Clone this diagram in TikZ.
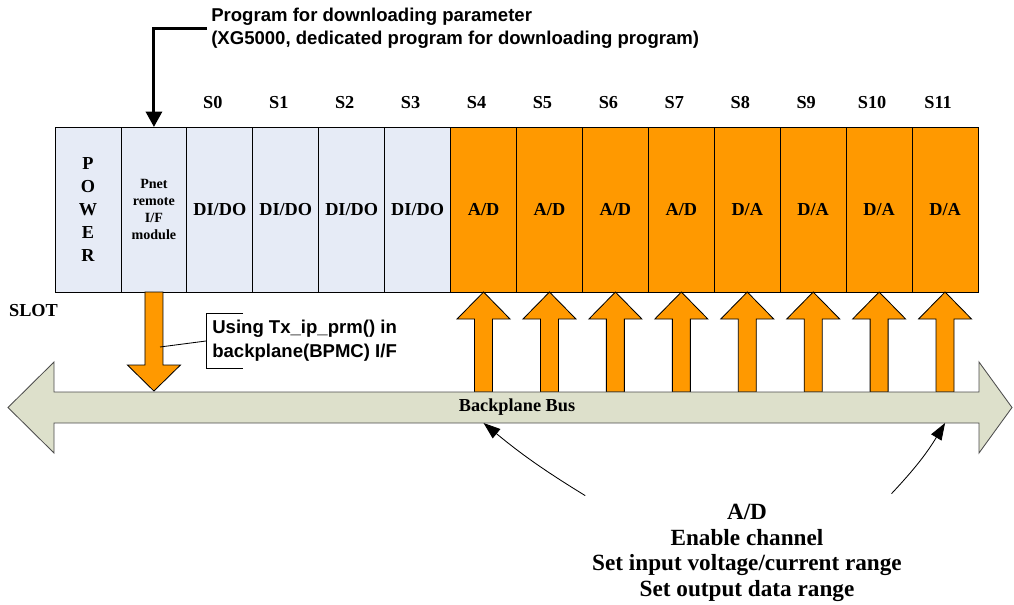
\documentclass[tikz,border=0pt]{standalone}
\usepackage{fontspec}
\setmainfont{Liberation Serif}
\newfontfamily\arialfont{Liberation Sans}
\usetikzlibrary{arrows.meta}
\usetikzlibrary{positioning}

\definecolor{slotblue}{HTML}{E6EBF6}
\definecolor{slotorange}{HTML}{FF9900}
\definecolor{busgreen}{HTML}{DDE0CB}

\tikzset{
  slot/.style={draw, line width=0.6pt, outer sep=0pt, inner sep=0pt,
    minimum width=1.648cm, minimum height=4.125cm, align=center,
    font=\bfseries\fontsize{13}{15}\selectfont},
  iomod/.style={slot, fill=slotblue},
  anmod/.style={slot, fill=slotorange},
  tag/.style={font=\bfseries\fontsize{13}{15}\selectfont},
  note/.style={font=\arialfont\bfseries\fontsize{13.2}{17}\selectfont, align=left},
  fatarrow/.style={draw, line width=0.6pt, fill=slotorange},
  pointer/.style={line width=0.6pt, -{Triangle[length=12pt,width=8.5pt]}}
}

\begin{document}
\begin{tikzpicture}[x=0.025cm, y=-0.025cm]
  % Slot width (pixels of the sketch)
  \def\w{65.93}
  \useasboundingbox (0,0) rectangle (1014,605);

  % Power supply and remote I/F module
  \node[iomod, font=\bfseries\fontsize{13}{16.3}\selectfont] (power) at (88,209.5) {P\\O\\W\\E\\R};
  \node[iomod, font=\bfseries\fontsize{10}{12}\selectfont, right=0pt of power] (pnet) {Pnet\\remote\\I/F\\module};

  % Digital and analog modules
  \foreach \i in {0,...,3}
    \node[iomod] (s\i) at ({55+\w*(\i+2.5)},209.5) {DI/DO};
  \foreach \lab [count=\i from 4] in {A/D,A/D,A/D,A/D,D/A,D/A,D/A,D/A}
    \node[anmod] (s\i) at ({55+\w*(\i+2.5)},209.5) {\lab};

  % Slot numbers
  \foreach \i in {0,...,11}
    \node[tag] (tag\i) at ({55+\w*(\i+2.5)-7},103) {S\i};
  \node[tag] (slotlbl) at (33.5,311) {SLOT};

  % Download program
  \node[note, anchor=west, inner xsep=0.1cm, font=\arialfont\bfseries\fontsize{13.2}{16.3}\selectfont] (title) at (207,28.5)
    {Program for downloading parameter\\(XG5000, dedicated program for downloading program)};
  \draw[line width=2.1pt, -{Triangle[length=11pt,width=11.5pt]}] (title.west) -| (pnet.north);

  % Fat arrows to and from the bus
  \draw[fatarrow] (pnet.south) +(-9,0) -- +(9,0) -- +(9,73) -- +(26.5,73)
    -- +(0,99) -- +(-26.5,73) -- +(-9,73) -- cycle;
  \foreach \i in {4,...,11}
    \draw[fatarrow] (s\i.south) -- +(26.5,27) -- +(9,27) -- +(9,100)
      -- +(-9,100) -- +(-9,27) -- +(-26.5,27) -- cycle;

  % Backplane bus
  \draw[line width=0.6pt, draw=black!70, fill=busgreen] (8,407.5) -- (54,362) -- (54,392) -- (979,392)
    -- (979,362) -- (1012,407.5) -- (979,453) -- (979,423) -- (54,423) -- (54,453) -- cycle;
  \node[tag] (bus) at (517,407) {Backplane Bus};
  \coordinate (busbot) at (0,423);

  % Tx_ip_prm() call
  \node[note, anchor=west, inner xsep=0.15cm, minimum height=1.35cm] (using) at (206,341)
    {Using Tx\_ip\_prm() in\\backplane(BPMC) I/F};
  \draw[line width=0.6pt] ([xshift=0.925cm]using.north west) -- (using.north west)
    -- (using.south west) -- ++(37,0);
  \coordinate (tap) at (160,347);
  \draw[line width=0.6pt] (using.west) -- (tap);

  % A/D settings
  \node[font=\bfseries\fontsize{16.5}{18.1}\selectfont, align=center] (cfg) at (747,553)
    {A/D\\Enable channel\\Set input voltage/current range\\Set output data range};
  \draw[pointer] ([xshift=-0.05cm,yshift=0.1cm]cfg.north west) to[bend left=4] (s4 |- busbot);
  \draw[pointer] ([xshift=-0.38cm,yshift=0.15cm]cfg.north east) to[bend right=6] (s11 |- busbot);
\end{tikzpicture}
\end{document}
